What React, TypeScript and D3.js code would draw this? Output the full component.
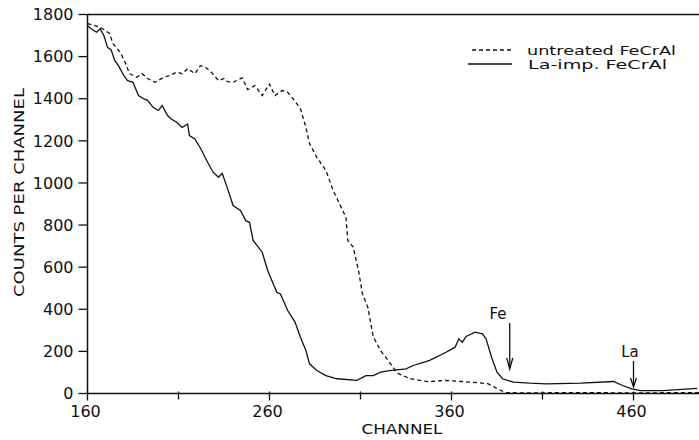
import React from 'react';
import * as d3 from 'd3';

const W = 699;
const H = 440;

const yTicks = [0, 200, 400, 600, 800, 1000, 1200, 1400, 1600, 1800];
const xTicksMajor = [160, 260, 360, 460];
const xTicksMinor = [210, 310, 410];

// untreated FeCrAl (dashed)
const untreatedChannel = [160, 167, 172, 174, 178, 181, 183, 187, 190, 193, 197, 202, 205, 209, 212, 215, 219, 222, 225, 228, 232, 235, 237, 240, 245, 248, 252, 256, 260, 263, 267, 270, 273, 277, 280, 282, 286, 291, 295, 302, 303, 306, 309, 311, 314, 317, 321, 325, 330, 337, 347, 357, 366, 380, 386, 390, 400, 430, 460, 496];
const untreatedCounts = [1757, 1740, 1711, 1662, 1620, 1567, 1519, 1502, 1519, 1496, 1478, 1502, 1510, 1526, 1519, 1543, 1519, 1557, 1548, 1526, 1486, 1496, 1481, 1478, 1499, 1443, 1462, 1415, 1470, 1415, 1439, 1430, 1399, 1353, 1264, 1187, 1122, 1059, 964, 837, 727, 695, 580, 475, 410, 270, 204, 160, 98, 71, 56, 62, 57, 47, 19, 4, 3, 4, 3, 4];

// La-imp. FeCrAl (solid)
const laChannel = [160, 162, 165, 167, 169, 171, 173, 175, 177, 180, 182, 185, 188, 191, 193, 196, 199, 201, 204, 206, 209, 212, 215, 216, 219, 222, 226, 229, 232, 234, 237, 240, 244, 247, 249, 251, 256, 259, 264, 266, 270, 274, 277, 280, 282, 286, 291, 297, 308, 313, 317, 321, 326, 335, 339, 345, 348, 357, 362, 364, 366, 368, 373, 377, 379, 382, 385, 388, 394, 403, 412, 431, 449, 454, 459, 464, 476, 495];
const laCounts = [1747, 1732, 1716, 1732, 1700, 1644, 1632, 1581, 1557, 1510, 1486, 1478, 1415, 1399, 1392, 1359, 1344, 1368, 1320, 1304, 1288, 1264, 1280, 1225, 1209, 1166, 1098, 1051, 1027, 1046, 972, 893, 869, 821, 813, 727, 671, 584, 481, 473, 394, 339, 267, 204, 141, 109, 85, 70, 62, 85, 85, 101, 109, 117, 133, 149, 157, 196, 220, 260, 244, 271, 291, 283, 260, 172, 101, 70, 54, 49, 46, 49, 57, 38, 22, 14, 14, 24];

const x = d3.scaleLinear().domain([160, 460]).range([87.5, 633.5]);
const y = d3.scaleLinear().domain([0, 1800]).range([393.5, 14.5]);

const line = d3
  .line<[number, number]>()
  .x((d) => x(d[0]))
  .y((d) => y(d[1]));

const untreated: [number, number][] = untreatedChannel.map((c, i) => [c, untreatedCounts[i]]);
const la: [number, number][] = laChannel.map((c, i) => [c, laCounts[i]]);

const FONT = '"DejaVu Sans", sans-serif';
const INK = '#111';

export default function App() {
  const x0 = x(160);
  const y0 = y(0);
  const yTop = y(1800);
  return (
    <svg
      width={W}
      height={H}
      viewBox={`0 0 ${W} ${H}`}
      style={{ position: 'absolute', left: 0, top: 0, background: '#fff' }}
    >
      <rect x={0} y={0} width={W} height={H} fill="#fff" />
      {/* frame */}
      <line x1={x0} y1={yTop} x2={W + 2} y2={yTop} stroke={INK} strokeWidth={1.5} />
      <line x1={x0} y1={yTop} x2={x0} y2={y0} stroke={INK} strokeWidth={1.5} />
      <line x1={x0} y1={y0} x2={W + 2} y2={y0} stroke={INK} strokeWidth={1.5} />
      {/* y ticks */}
      {yTicks.map((t) => (
        <g key={t}>
          <line x1={x0 - 9} y1={y(t)} x2={x0} y2={y(t)} stroke={INK} strokeWidth={1.3} />
          <text
            x={x0 - 14}
            y={y(t)}
            dy="0.36em"
            textAnchor="end"
            fontFamily={FONT}
            fontSize={16}
            fill={INK}
          >
            {t}
          </text>
        </g>
      ))}
      {/* x ticks */}
      {xTicksMajor.map((t) => (
        <g key={t}>
          <line x1={x(t)} y1={y0 - 2} x2={x(t)} y2={y0 + 7} stroke={INK} strokeWidth={1.3} />
          <text x={x(t) - 2} y={417} textAnchor="middle" fontFamily={FONT} fontSize={16} fill={INK}>
            {t}
          </text>
        </g>
      ))}
      {xTicksMinor.map((t) => (
        <line key={t} x1={x(t)} y1={y0 - 2} x2={x(t)} y2={y0 + 6} stroke={INK} strokeWidth={1.3} />
      ))}
      {/* axis titles */}
      <text
        transform={`translate(23.5,192.5) rotate(-90)`}
        textAnchor="middle"
        fontFamily={FONT}
        fontSize={14}
        fill={INK}
        textLength={209}
        lengthAdjust="spacingAndGlyphs"
      >
        COUNTS PER CHANNEL
      </text>
      <text
        x={402}
        y={434}
        textAnchor="middle"
        fontFamily={FONT}
        fontSize={14}
        fill={INK}
        textLength={81}
        lengthAdjust="spacingAndGlyphs"
      >
        CHANNEL
      </text>
      {/* curves */}
      <path d={line(untreated) || ''} fill="none" stroke={INK} strokeWidth={1.3} strokeDasharray="4 3" />
      <path d={line(la) || ''} fill="none" stroke={INK} strokeWidth={1.3} />
      {/* legend */}
      <line x1={472} y1={50} x2={512} y2={50} stroke={INK} strokeWidth={1.3} strokeDasharray="4 3" />
      <line x1={468} y1={64} x2={512} y2={64} stroke={INK} strokeWidth={1.3} />
      <text x={527} y={54.5} fontFamily={FONT} fontSize={12} fill={INK} textLength={149} lengthAdjust="spacingAndGlyphs">
        untreated FeCrAl
      </text>
      <text x={528} y={68.5} fontFamily={FONT} fontSize={12} fill={INK} textLength={139} lengthAdjust="spacingAndGlyphs">
        La-imp. FeCrAl
      </text>
      {/* annotations */}
      <text x={498} y={319} textAnchor="middle" fontFamily={FONT} fontSize={15} fill={INK}>
        Fe
      </text>
      <line x1={x(392)} y1={323} x2={x(392)} y2={368} stroke={INK} strokeWidth={1.3} />
      <path
        d={`M${x(392) - 3},${358} L${x(392)},${369} L${x(392) + 3},${358}`}
        fill="none"
        stroke={INK}
        strokeWidth={1.3}
      />
      <text x={630} y={357} textAnchor="middle" fontFamily={FONT} fontSize={15} fill={INK}>
        La
      </text>
      <line x1={x(460)} y1={361} x2={x(460)} y2={386} stroke={INK} strokeWidth={1.3} />
      <path
        d={`M${x(460) - 3},${378} L${x(460)},${387} L${x(460) + 3},${378}`}
        fill="none"
        stroke={INK}
        strokeWidth={1.3}
      />
    </svg>
  );
}
